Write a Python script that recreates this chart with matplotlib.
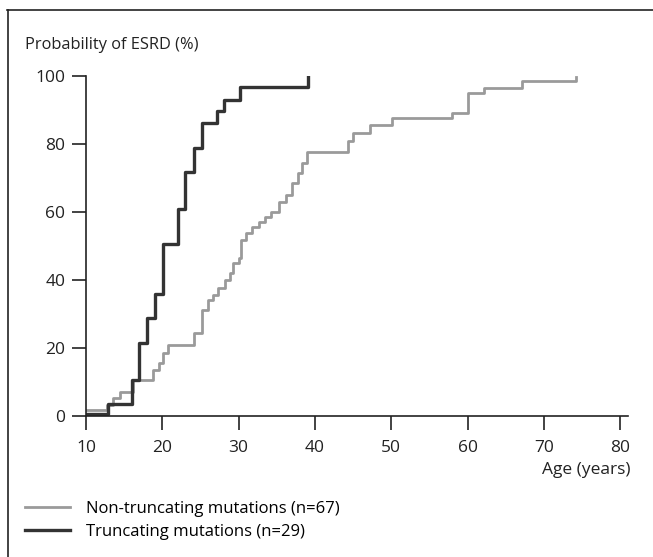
"""Cumulative probability of ESRD by mutation type."""
import matplotlib
matplotlib.use('Agg')
import matplotlib.pyplot as plt
from matplotlib.lines import Line2D

plt.rcParams['font.family'] = ['Open Sans', 'DejaVu Sans']

# step curves (age in years, probability in %)
nontrunc_age = [10, 12.7, 13.5, 14.5, 16.2, 18.8, 19.5, 20.1, 20.8, 24.1,
                25.2, 26.0, 26.7, 27.3, 28.2, 28.9, 29.3, 30.0, 30.3, 30.9,
                31.7, 32.6, 33.5, 34.3, 35.3, 36.2, 37.0, 37.8, 38.3, 38.9,
                44.3, 45.0, 47.2, 50.1, 57.9, 60.1, 62.1, 67.1, 74.2]
nontrunc_pct = [1.8, 3.2, 5.2, 7.1, 10.6, 13.5, 15.5, 18.4, 20.9, 24.3,
                31.1, 34.1, 35.6, 37.5, 40.0, 41.9, 44.9, 46.3, 51.7, 53.7,
                55.6, 57.1, 58.6, 60.0, 63.0, 64.9, 68.4, 71.3, 74.3, 77.7,
                80.9, 83.2, 85.5, 87.5, 89.1, 94.8, 96.5, 98.4, 99.6]

trunc_age = [10, 12.9, 16.0, 17.0, 18.0, 19.0, 20.05, 22.0, 23.0, 24.1,
             25.2, 27.1, 28.1, 30.2, 39.1]
trunc_pct = [0.5, 3.5, 10.6, 21.5, 28.7, 36.0, 50.4, 60.7, 71.6, 78.9,
             86.2, 89.6, 92.9, 96.8, 100]

x_ticks = [10, 20, 30, 40, 50, 60, 70, 80]
y_ticks = [0, 20, 40, 60, 80, 100]

labels = ['Non-truncating mutations (n=67)', 'Truncating mutations (n=29)']

fig = plt.figure(figsize=(6.53, 5.57), dpi=100)
ax = fig.add_axes([0.1317, 0.2531, 0.830, 0.611])

ax.step(nontrunc_age, nontrunc_pct, where='post', color='#9a9a9a',
        linewidth=2.0, label=labels[0])
ax.step(trunc_age, trunc_pct, where='post', color='#333333',
        linewidth=2.4, label=labels[1])

ax.set_xlim(10, 81)
ax.set_ylim(0, 100)
ax.set_xticks(x_ticks)
ax.set_yticks(y_ticks)
ax.spines['top'].set_visible(False)
ax.spines['right'].set_visible(False)
for side in ('left', 'bottom'):
    ax.spines[side].set_color('#222222')
    ax.spines[side].set_linewidth(1.2)
ax.tick_params(direction='out', length=10, width=1.2, colors='#222222',
               labelsize=12.5, pad=5)
ax.tick_params(axis='x', pad=7)

fig.text(25 / 653, 1 - 45 / 557, 'Probability of ESRD (%)', fontsize=11.8,
         color='#222222', va='center', ha='left')
fig.text(630 / 653, 1 - 470 / 557, 'Age (years)', fontsize=12.5,
         color='#222222', va='center', ha='right')

fig.legend(loc='upper left', bbox_to_anchor=(18 / 653, 1 - 494 / 557),
           frameon=False, fontsize=12, handlelength=2.7,
           handletextpad=1.0, labelspacing=0.45, borderaxespad=0)

# frame lines on the left and top of the figure
fig.add_artist(Line2D([7 / 653, 1], [1 - 9.5 / 557] * 2, color='#222222',
                      linewidth=1.2, transform=fig.transFigure))
fig.add_artist(Line2D([7.5 / 653] * 2, [0, 1 - 9.5 / 557], color='#222222',
                      linewidth=1.2, transform=fig.transFigure))

fig.savefig('out.png', dpi=100)
